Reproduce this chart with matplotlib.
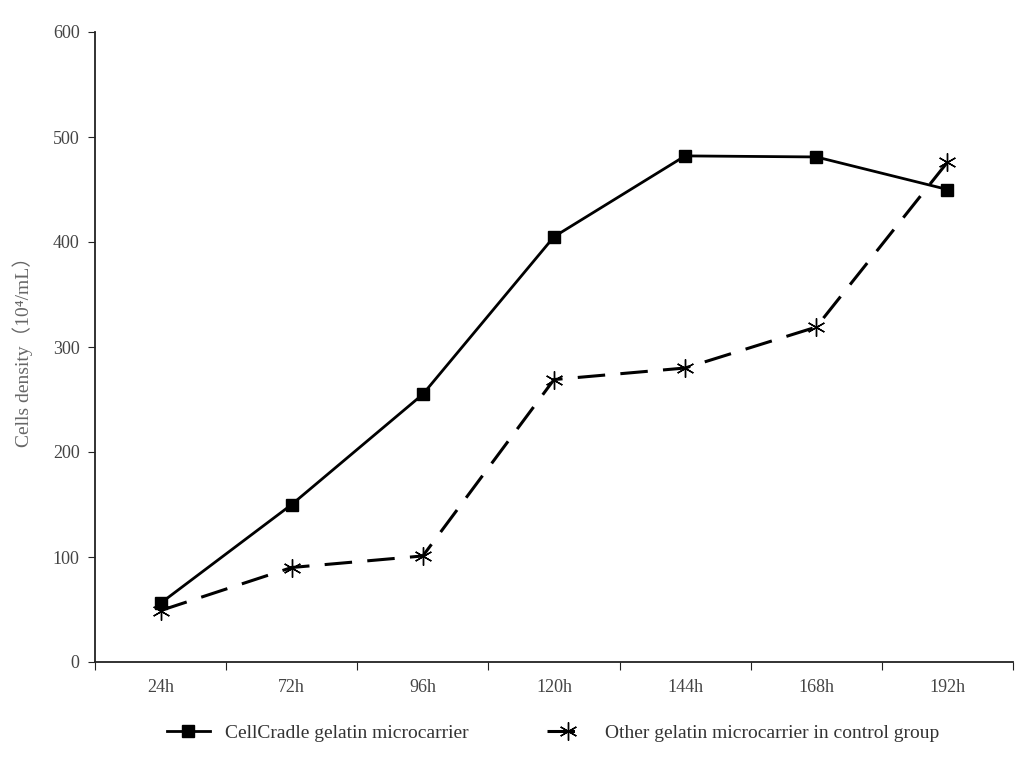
import numpy as np
from matplotlib import pyplot as plt

plt.rcParams['font.family'] = ['Liberation Serif', 'Noto Sans CJK SC', 'DejaVu Serif']

# data
hours = ['24h', '72h', '96h', '120h', '144h', '168h', '192h']
cellcradle = [56, 150, 255, 405, 482, 481, 450]
control = [49, 90, 101, 269, 280, 319, 476]

fig = plt.figure(figsize=(10.24, 7.62), dpi=100)
ax = fig.add_axes([95 / 1024, 1 - 662 / 762, (1013 - 95) / 1024, (662 - 32) / 762])

x = np.arange(len(hours))
ax.plot(x, cellcradle, color='black', lw=2, marker='s', markersize=8,
        label='CellCradle gelatin microcarrier')
ax.plot(x, control, color='black', lw=2.2, dashes=(9, 5), marker=(6, 2, 0), markersize=13,
        markeredgewidth=1.0, label='Other gelatin microcarrier in control group')

# 坐标轴
ax.set_xlim(-0.5, len(hours) - 0.5)
ax.set_ylim(0, 600)
ax.set_yticks(range(0, 601, 100))
ax.set_xticks(np.arange(-0.5, len(hours), 1))
ax.set_xticklabels([])
ax.set_xticks(x, minor=True)
ax.set_xticklabels(hours, minor=True)
ax.tick_params(axis='x', which='minor', length=0, pad=12, labelsize=13, labelcolor='#444444')
ax.tick_params(axis='x', which='major', length=6, direction='out', color='#222222')
ax.tick_params(axis='y', length=5, direction='out', color='#222222', pad=6,
               labelsize=13, labelcolor='#444444')
for s in ['top', 'right']:
    ax.spines[s].set_visible(False)
for s in ['left', 'bottom']:
    ax.spines[s].set_color('#222222')
    ax.spines[s].set_linewidth(1.3)

ax.set_ylabel('Cells density（10⁴/mL）', fontsize=14, color='#666666', labelpad=14)

fig.legend(loc='center', bbox_to_anchor=(0.54, 1 - 733 / 762), ncol=2, frameon=False,
           fontsize=14, handlelength=2.2, columnspacing=4, labelcolor='#333333')

fig.savefig('out.png', dpi=100)
